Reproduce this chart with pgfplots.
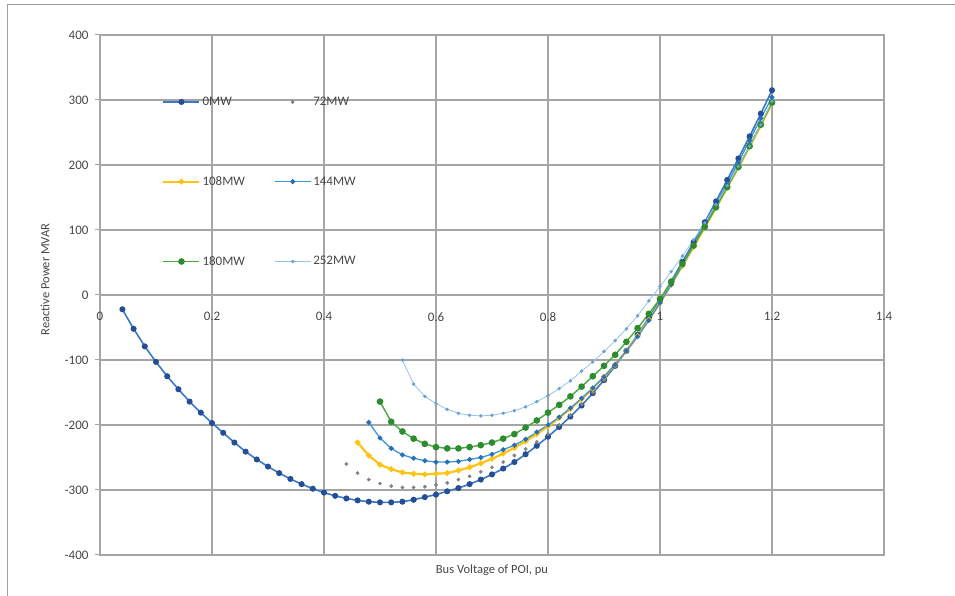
\documentclass[border=0pt]{standalone}
\usepackage{pgfplots}
\pgfplotsset{compat=1.18}
\usepackage{fontspec}
\setmainfont{Carlito}
\definecolor{gridc}{RGB}{165,165,165}
\definecolor{txtc}{RGB}{70,70,70}
\definecolor{c0line}{RGB}{58,120,200}
\definecolor{c0mark}{RGB}{38,78,150}
\definecolor{c72}{RGB}{130,130,130}
\definecolor{c108}{RGB}{255,195,20}
\definecolor{c144line}{RGB}{60,150,215}
\definecolor{c144mark}{RGB}{40,110,185}
\definecolor{c180}{RGB}{70,170,60}
\definecolor{c180mark}{RGB}{45,140,45}
\definecolor{c252}{RGB}{150,195,235}
\definecolor{c252mark}{RGB}{110,160,215}
\begin{document}
\begin{tikzpicture}
\useasboundingbox (-100pt,-41pt) rectangle (855pt,555pt);
\draw[gray!75, line width=1pt] (-92pt,-45pt) -- (-92pt,550pt) -- (860pt,550pt);
\begin{axis}[
  at={(0pt,0pt)}, anchor=south west,
  scale only axis, width=784pt, height=520pt,
  xmin=0, xmax=1.4, ymin=-400, ymax=400,
  xtick={0,0.2,0.4,0.6,0.8,1,1.2,1.4},
  xticklabels={0,0.2,0.4,0.6,0.8,1,1.2,1.4},
  ytick={-400,-300,-200,-100,0,100,200,300,400},
  yticklabels={-400,-300,-200,-100,0,100,200,300,400},
  grid=major,
  major grid style={draw=gridc, line width=1.2pt},
  axis line style={draw=gridc, line width=1.2pt},
  tick align=outside, major tick length=5pt,
  xtick style={draw=none},
  ytick style={draw=gridc, line width=1pt},
  ytick pos=left,
  /pgf/number format/assume math mode=true,
  tick label style={font=\fontsize{13}{15}\selectfont, text=txtc},
  yticklabel style={xshift=-3pt},
  xticklabel style={yshift=251pt},
  every axis x label/.style={at={(rel axis cs:0.5,0)}, yshift=-15pt, anchor=center},
  every axis y label/.style={at={(rel axis cs:0,0.53)}, xshift=-55pt, rotate=90, anchor=center},
  label style={font=\fontsize{12.5}{14}\selectfont, text=txtc},
  xlabel={Bus Voltage of POI, pu},
  ylabel={Reactive Power MVAR},
  legend style={draw=none, fill=none, at={(axis cs:0.111,308)}, anchor=north west,
    legend columns=2, row sep=65.5pt, inner sep=0pt,
    font=\fontsize{13}{15}\selectfont, text=txtc,
    /tikz/every even column/.append style={column sep=27pt}},
  legend cell align=left,
  legend image code/.code={\draw[mark repeat=2,mark phase=2] plot coordinates {(0pt,0pt) (18pt,0pt) (36pt,0pt)};},
]
\addplot[c0line, line width=1.6pt, mark=*, mark size=2.2pt, mark options={draw=c0mark, fill=c0mark}] coordinates {
(0.04,-22) (0.06,-52) (0.08,-79) (0.10,-103) (0.12,-125) (0.14,-145) (0.16,-164) (0.18,-181) (0.20,-197)
(0.22,-212) (0.24,-227) (0.26,-241) (0.28,-253) (0.30,-264) (0.32,-274) (0.34,-283) (0.36,-291) (0.38,-298)
(0.40,-304) (0.42,-309) (0.44,-313) (0.46,-316) (0.48,-318) (0.50,-319) (0.52,-319) (0.54,-318) (0.56,-315)
(0.58,-311) (0.60,-307) (0.62,-302) (0.64,-297) (0.66,-291) (0.68,-284) (0.70,-276) (0.72,-267) (0.74,-257)
(0.76,-245) (0.78,-232) (0.80,-218) (0.82,-203) (0.84,-187) (0.86,-170) (0.88,-151) (0.90,-131) (0.92,-109)
(0.94,-86) (0.96,-61) (0.98,-35) (1.00,-8) (1.02,21) (1.04,51) (1.06,81) (1.08,112) (1.10,144) (1.12,177)
(1.14,210) (1.16,244) (1.18,279) (1.20,315)};
\addlegendentry{0MW}
\addplot[only marks, mark=*, mark size=1.7pt, mark options={draw=c72, fill=c72}] coordinates {
(0.44,-260) (0.46,-274) (0.48,-284) (0.50,-290) (0.52,-294) (0.54,-296) (0.56,-296) (0.58,-295) (0.60,-292)
(0.62,-289) (0.64,-284) (0.66,-279) (0.68,-272) (0.70,-265) (0.72,-257) (0.74,-247) (0.76,-237) (0.78,-226)
(0.80,-214) (0.82,-200) (0.84,-185) (0.86,-168) (0.88,-150) (0.90,-131) (0.92,-110) (0.94,-87) (0.96,-63)
(0.98,-37) (1.00,-10) (1.02,18) (1.04,47) (1.06,76) (1.08,106) (1.10,137) (1.12,168) (1.14,200) (1.16,233)
(1.18,266) (1.20,300)};
\addlegendentry{72MW}
\addplot[c108, line width=2.2pt, mark=*, mark size=1.6pt, mark options={draw=c108, fill=c108}] coordinates {
(0.46,-227) (0.48,-247) (0.50,-261) (0.52,-268) (0.54,-273) (0.56,-275) (0.58,-276) (0.60,-275) (0.62,-274)
(0.64,-270) (0.66,-265) (0.68,-259) (0.70,-252) (0.72,-244) (0.74,-235) (0.76,-225) (0.78,-214) (0.80,-202)
(0.82,-189) (0.84,-175) (0.86,-160) (0.88,-144) (0.90,-126) (0.92,-107) (0.94,-86) (0.96,-63) (0.98,-38)
(1.00,-12) (1.02,16) (1.04,45) (1.06,74) (1.08,104) (1.10,134) (1.12,165) (1.14,196) (1.16,228) (1.18,261)
(1.20,295)};
\addlegendentry{108MW}
\addplot[c144line, line width=1.3pt, mark=*, mark size=1.8pt, mark options={draw=c144mark, fill=c144mark}] coordinates {
(0.48,-196) (0.50,-220) (0.52,-236) (0.54,-246) (0.56,-251) (0.58,-255) (0.60,-257) (0.62,-257) (0.64,-256)
(0.66,-253) (0.68,-250) (0.70,-245) (0.72,-238) (0.74,-231) (0.76,-222) (0.78,-211) (0.80,-200) (0.82,-188)
(0.84,-174) (0.86,-159) (0.88,-143) (0.90,-126) (0.92,-107) (0.94,-86) (0.96,-64) (0.98,-39) (1.00,-12)
(1.02,16) (1.04,46) (1.06,76) (1.08,107) (1.10,139) (1.12,171) (1.14,204) (1.16,238) (1.18,272) (1.20,304)};
\addlegendentry{144MW}
\addplot[c180, line width=1.4pt, mark=*, mark size=2.6pt, mark options={draw=c180mark, fill=c180mark}] coordinates {
(0.50,-164) (0.52,-195) (0.54,-210) (0.56,-221) (0.58,-229) (0.60,-234) (0.62,-236) (0.64,-236) (0.66,-234)
(0.68,-231) (0.70,-227) (0.72,-221) (0.74,-214) (0.76,-204) (0.78,-193) (0.80,-181) (0.82,-169) (0.84,-156)
(0.86,-141) (0.88,-125) (0.90,-109) (0.92,-92) (0.94,-72) (0.96,-51) (0.98,-29) (1.00,-6) (1.02,20) (1.04,48)
(1.06,76) (1.08,105) (1.10,135) (1.12,166) (1.14,197) (1.16,229) (1.18,262) (1.20,296)};
\addlegendentry{180MW}
\addplot[c252, line width=0.8pt, mark=*, mark size=1.3pt, mark options={draw=c252mark, fill=c252mark}] coordinates {
(0.54,-100) (0.56,-137) (0.58,-156) (0.60,-167) (0.62,-176) (0.64,-182) (0.66,-185) (0.68,-186) (0.70,-185)
(0.72,-182) (0.74,-178) (0.76,-172) (0.78,-164) (0.80,-155) (0.82,-144) (0.84,-132) (0.86,-117) (0.88,-103)
(0.90,-87) (0.92,-70) (0.94,-52) (0.96,-32) (0.98,-9) (1.00,13) (1.02,36) (1.04,60) (1.06,85) (1.08,111)
(1.10,139) (1.12,168) (1.14,198) (1.16,229) (1.18,262) (1.20,298)};
\addlegendentry{252MW}
\end{axis}
\end{tikzpicture}
\end{document}
